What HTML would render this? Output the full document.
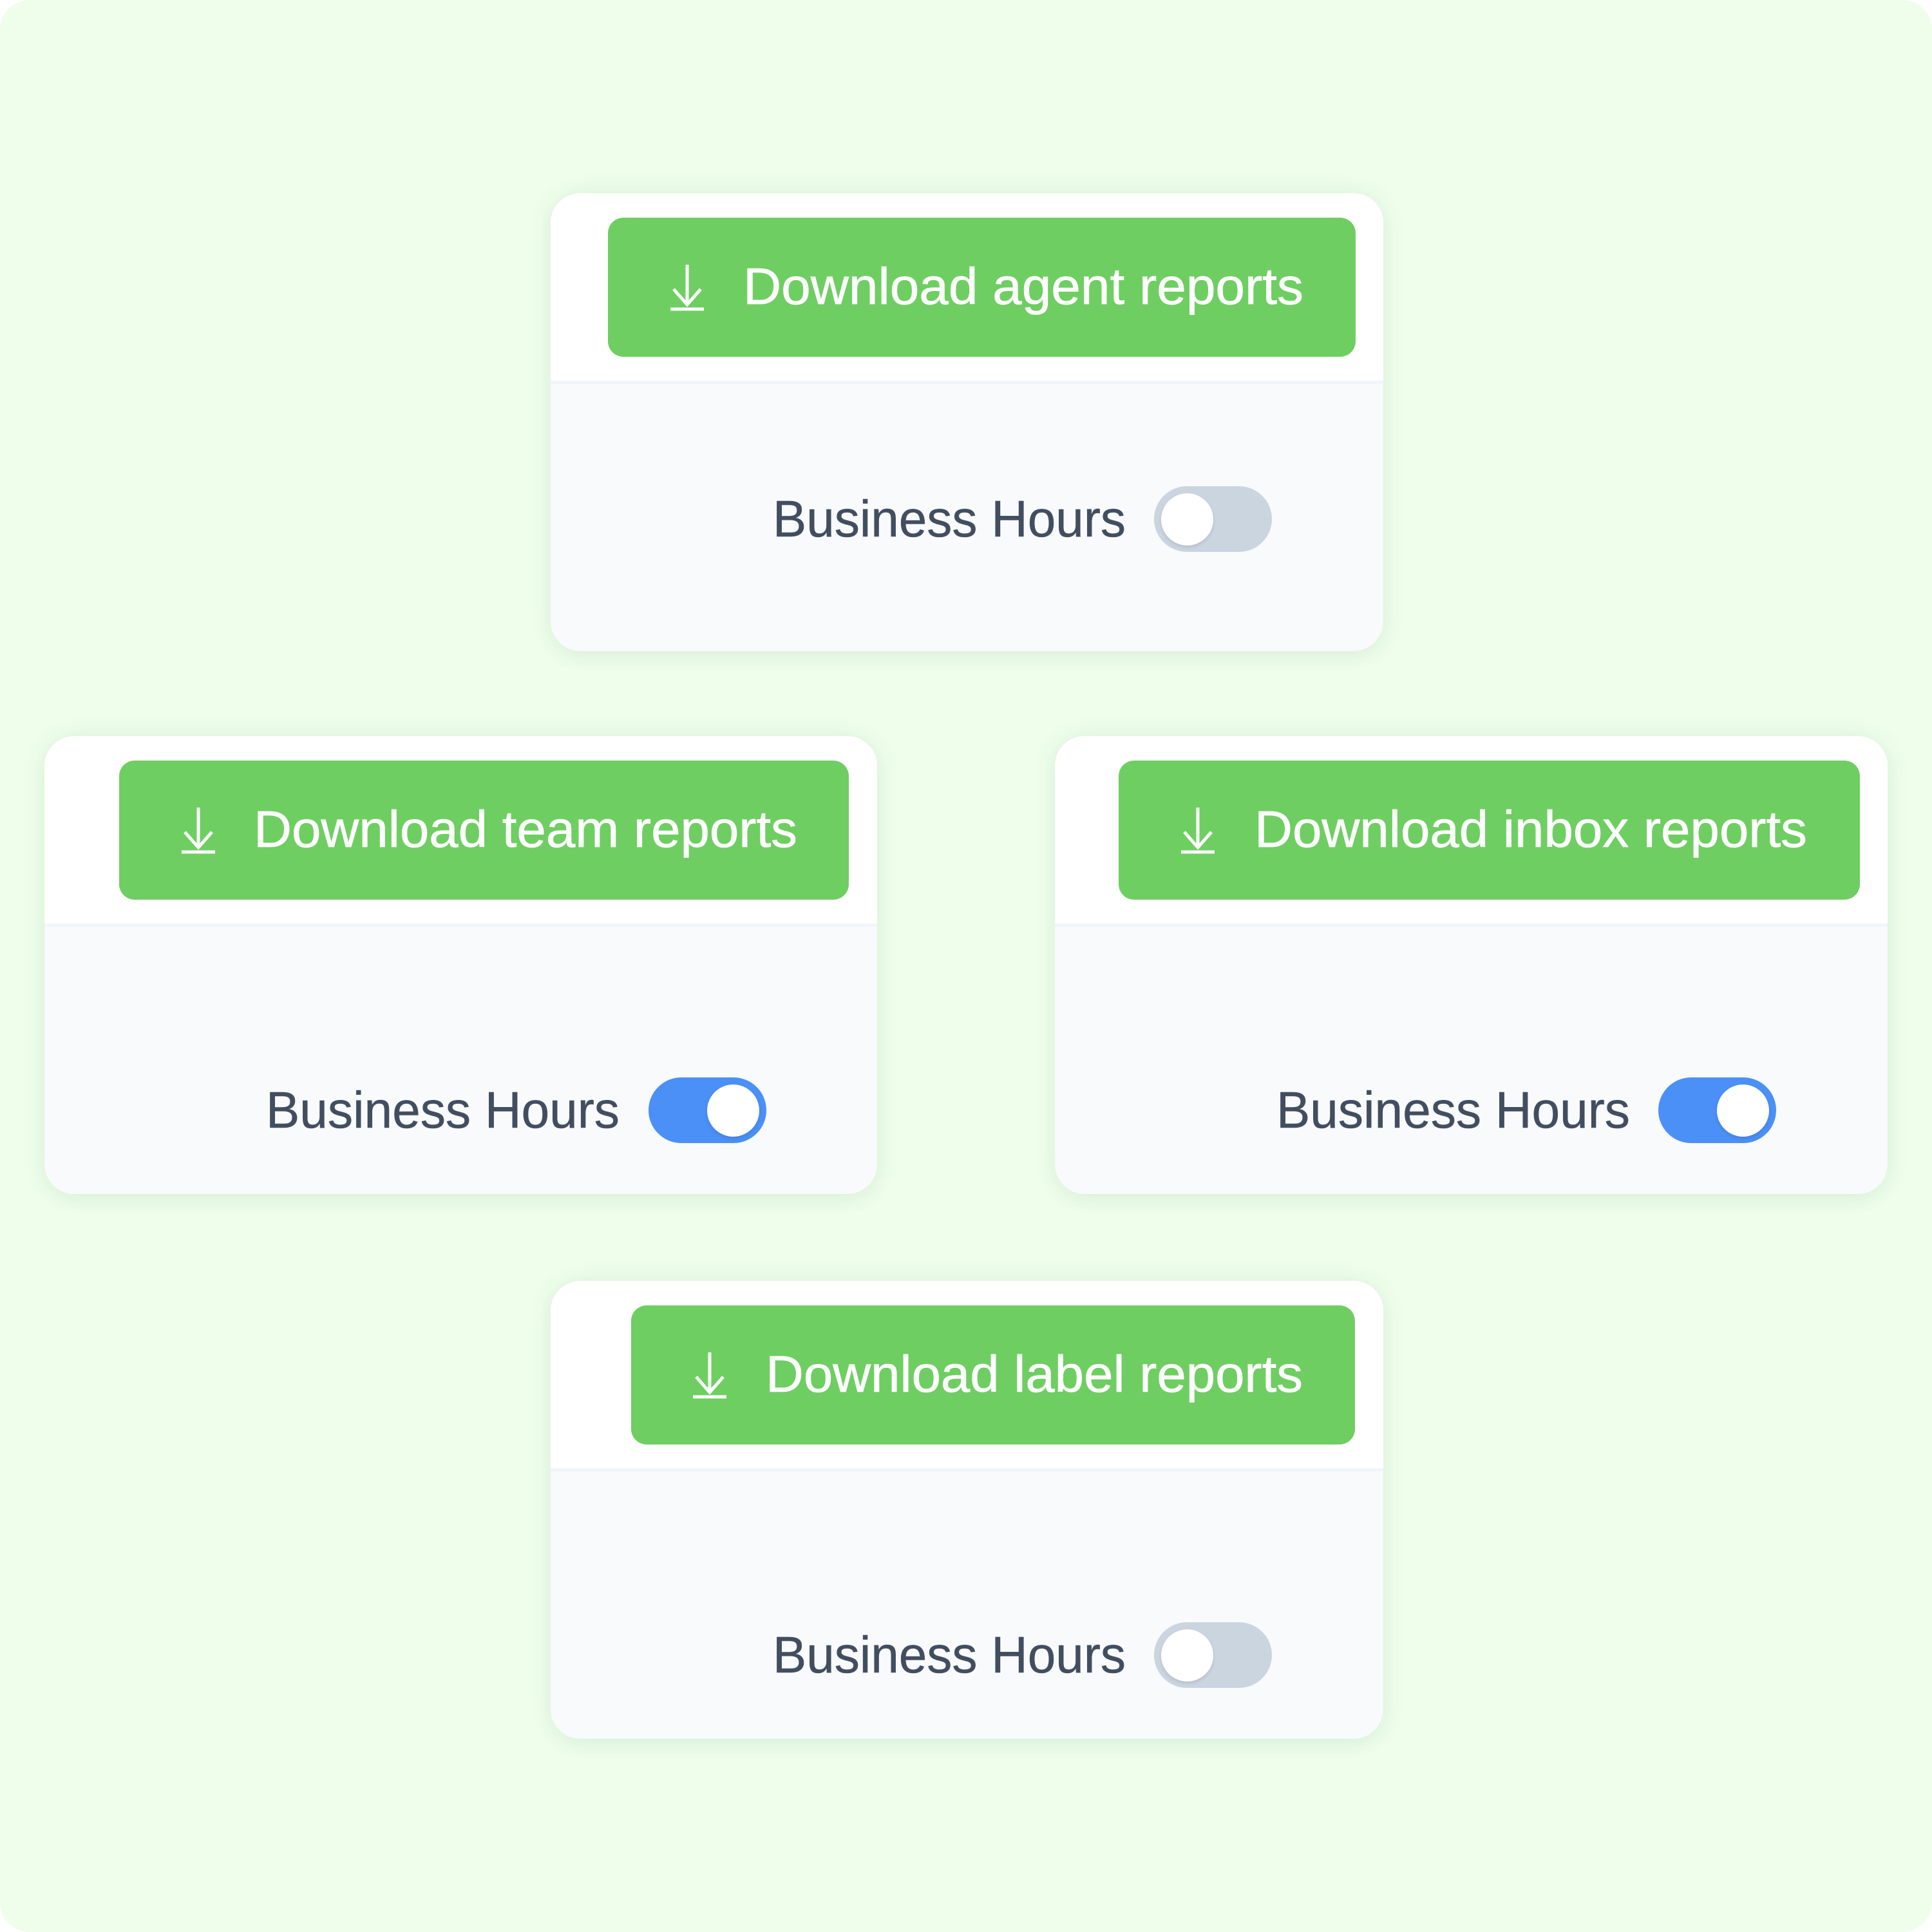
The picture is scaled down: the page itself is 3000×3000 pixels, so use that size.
<!DOCTYPE html>
<html lang="en">
<head>
<meta charset="utf-8">
<title>Download reports</title>
<style>
html,body{margin:0;padding:0;width:3000px;height:3000px;background:#fff;overflow:hidden}
#bg{position:absolute;left:0;top:0;width:3000px;height:3000px;background:#eefeeb;border-radius:46px}
.card{position:absolute;width:1293px;height:711px;border-radius:46px;background:#f8fafc;overflow:visible;
box-shadow:0 0 40px rgba(30,80,30,.07),0 12px 30px rgba(30,80,30,.03)}
.head{position:absolute;left:0;top:0;width:1293px;height:291px;background:#fff;border-radius:46px 46px 0 0;border-bottom:5px solid #f1f5f9}
.btn{position:absolute;height:216px;background:#6fce62;border-radius:24px}
.tog{position:absolute;width:183px;height:102px;border-radius:51px}
.tog i{position:absolute;top:11px;width:81px;height:81px;border-radius:50%;background:#fff;box-shadow:0 3px 6px rgba(0,0,0,.1)}
.off{background:#cbd5e0}.off i{left:11px}
.on{background:#4a90f6}.on i{left:91px}
svg{position:absolute;left:0;top:0}
text{font-family:"Liberation Sans",sans-serif;font-size:80px}
.w{fill:#fff;stroke:#fff;stroke-width:.7}.g{fill:#424e60;stroke:#424e60;stroke-width:.5}
.ic{fill:none;stroke:#fff;stroke-width:5}
</style>
</head>
<body>
<div id="bg"></div>

<div class="card" style="left:855px;top:300px"><div class="head"></div><div class="btn" style="left:89px;top:38px;width:1161px"></div><div class="tog off" style="left:937px;top:455px"><i></i></div></div>
<div class="card" style="left:69px;top:1143px"><div class="head"></div><div class="btn" style="left:116px;top:38px;width:1133px"></div><div class="tog on" style="left:938px;top:530px"><i></i></div></div>
<div class="card" style="left:1638px;top:1143px"><div class="head"></div><div class="btn" style="left:99px;top:38px;width:1151px"></div><div class="tog on" style="left:937px;top:530px"><i></i></div></div>
<div class="card" style="left:855px;top:1989px"><div class="head"></div><div class="btn" style="left:125px;top:38px;width:1124px"></div><div class="tog off" style="left:937px;top:530px"><i></i></div></div>

<svg width="3000" height="3000" viewBox="0 0 3000 3000">
  <g class="ic">
    <path d="M1067 411V471M1046 449L1067 473L1088 449M1041 480H1093"/>
    <path d="M308 1254V1314M287 1292L308 1316L329 1292M282 1323H334"/>
    <path d="M1860 1254V1314M1839 1292L1860 1316L1881 1292M1834 1323H1886"/>
    <path d="M1102 2100V2160M1081 2138L1102 2162L1123 2138M1076 2169H1128"/>
  </g>
  <text class="w" x="1154" y="472" textLength="870" lengthAdjust="spacingAndGlyphs">Download agent reports</text>
  <text class="w" x="394" y="1315" textLength="844" lengthAdjust="spacingAndGlyphs">Download team reports</text>
  <text class="w" x="1948" y="1315" textLength="858" lengthAdjust="spacingAndGlyphs">Download inbox reports</text>
  <text class="w" x="1189" y="2161" textLength="834" lengthAdjust="spacingAndGlyphs">Download label reports</text>

  <text class="g" x="1200" y="833" textLength="548" lengthAdjust="spacingAndGlyphs">Business Hours</text>
  <text class="g" x="413" y="1751" textLength="549" lengthAdjust="spacingAndGlyphs">Business Hours</text>
  <text class="g" x="1982" y="1751" textLength="549" lengthAdjust="spacingAndGlyphs">Business Hours</text>
  <text class="g" x="1200" y="2597" textLength="548" lengthAdjust="spacingAndGlyphs">Business Hours</text>
</svg>
</body>
</html>
